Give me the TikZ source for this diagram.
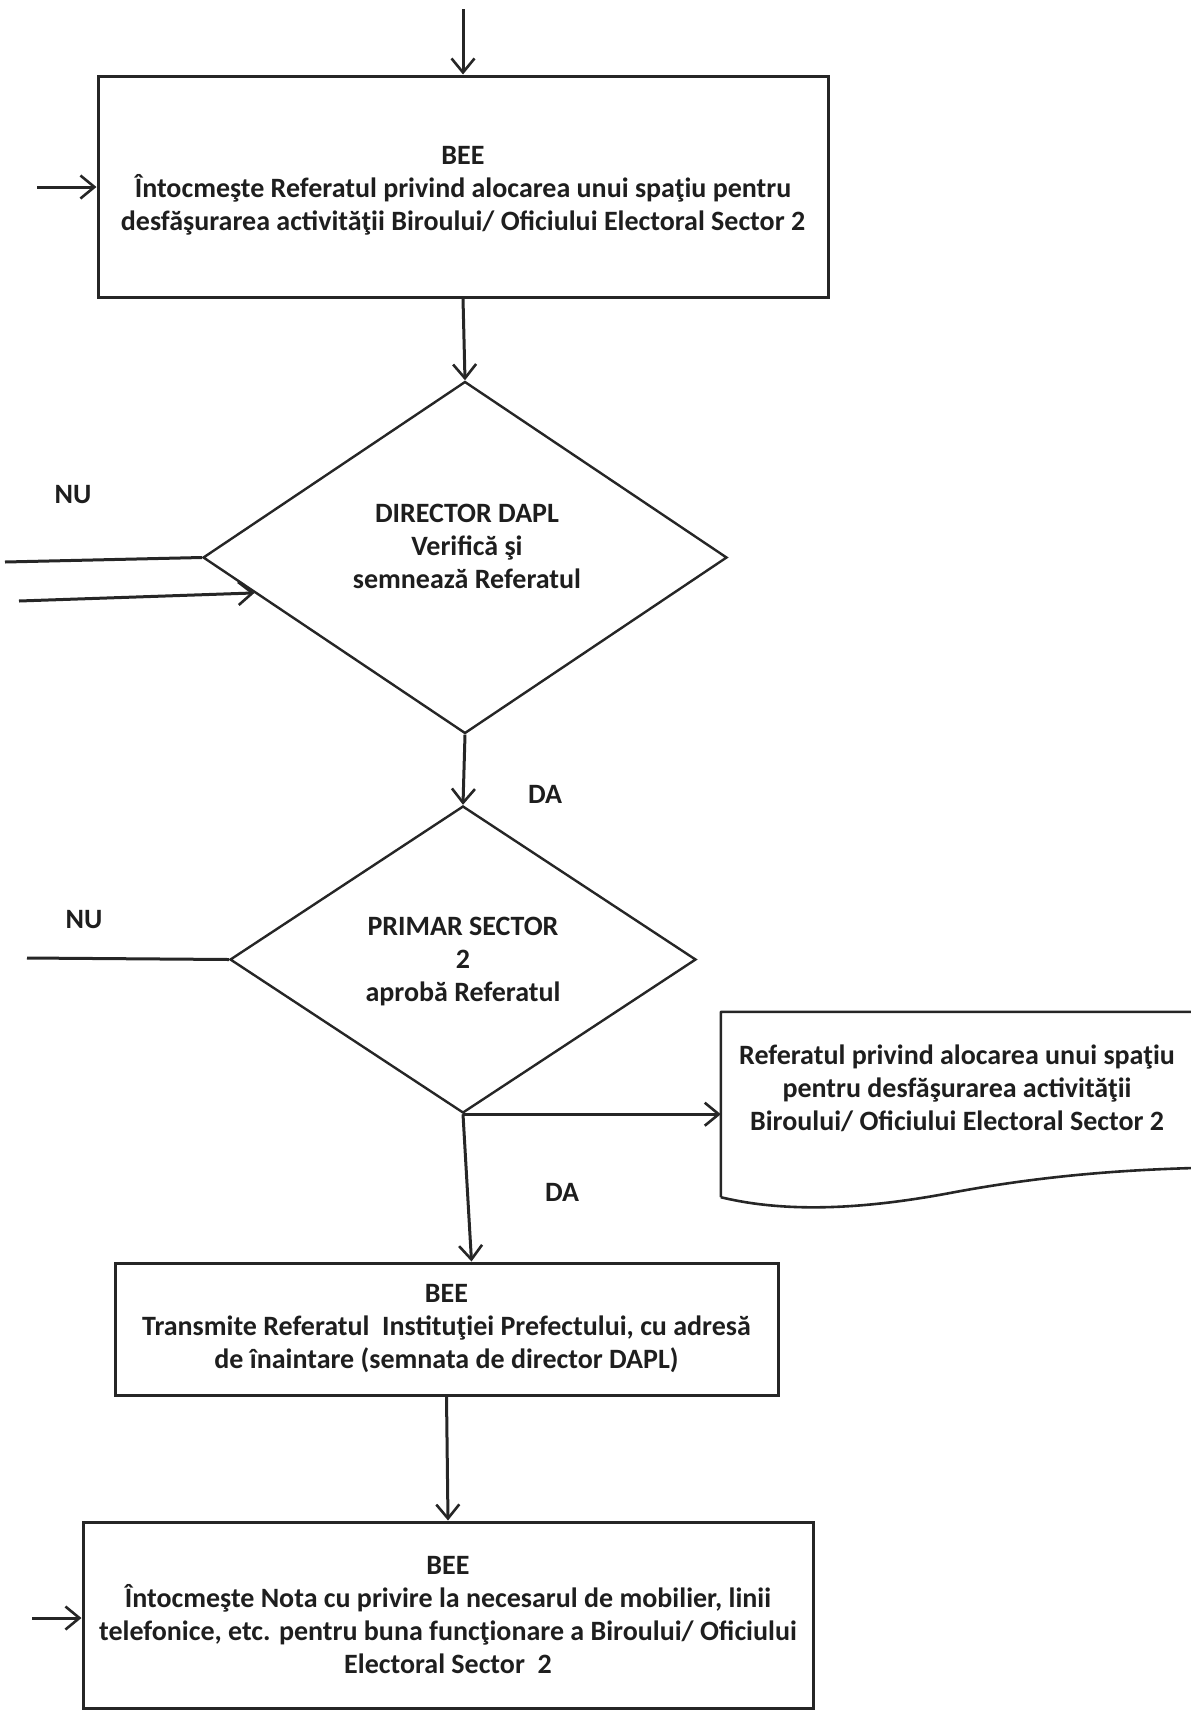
\documentclass[tikz,border=0pt]{standalone}
\usepackage{fontspec}
\setmainfont{Carlito}
\usetikzlibrary{arrows.meta,shapes.geometric,calc}

\definecolor{ink}{HTML}{262626}
\definecolor{txt}{HTML}{1E1E1E}

\tikzset{
  every node/.style={font=\bfseries\fontsize{28}{33}\selectfont, text=txt},
  procbox/.style={draw=ink, line width=3pt, rectangle, inner sep=0pt, align=center},
  decision/.style={draw=ink, line width=2.4pt, diamond, inner sep=0pt, aspect=1},
  lbl/.style={inner sep=0pt, align=center},
  flow/.style={draw=ink, line width=3pt, -{Straight Barb[length=14pt,width=23pt,line width=2.6pt]}},
  plain/.style={draw=ink, line width=3pt}
}

\begin{document}
\begin{tikzpicture}[x=1pt,y=-1pt]
\useasboundingbox (0,0) rectangle (1191,1711);

% --- first BEE box ---
\node[procbox, minimum width=730pt, minimum height=221pt] (b1) at (463,186.5) {};
\node[lbl] (b1t) at (463,191)
  {BEE\\Întocmeşte Referatul privind alocarea unui spaţiu pentru\\desfăşurarea activităţii Biroului/ Oficiului Electoral Sector 2};
\coordinate (top) at (463,9);
\coordinate (in1) at (37,187);
\draw[flow] (top) -- (b1.north);
\draw[flow] (in1) -- (b1.west |- in1);

% --- director decision ---
\node[decision, minimum width=524pt, minimum height=352pt] (d1) at (465,557.5) {};
\node[lbl] (d1t) at (467,546) {DIRECTOR DAPL\\Verifică şi\\semnează Referatul};
\draw[flow] (b1.south) -- (d1.north);

\node[lbl] (nu1) at (73,495) {NU};
\coordinate (nu1s) at (5,562);
\draw[plain] (nu1s) -- (d1.west);
\coordinate (in2) at (19,601);
\draw[flow] (in2) -- ($(d1.west)!0.2!(d1.south)$);

% --- mayor decision ---
\node[decision, minimum width=466pt, minimum height=307pt] (d2) at (463,959.5) {};
\node[lbl] (d2t) at (463,962) {PRIMAR SECTOR\\2\\aprobă Referatul};
\draw[flow] (d1.south) -- (d2.north);
\node[lbl] (da1) at (545,794) {DA};

\node[lbl] (nu2) at (84,920) {NU};
\coordinate (nu2s) at (27,958);
\draw[plain] (nu2s) -- (d2.west);

% --- document output ---
\node[inner sep=0pt, minimum width=473pt, minimum height=185pt] (doc) at (957.5,1104.5) {};
\node[lbl] (doct) at (957,1088) {Referatul privind alocarea unui spaţiu\\pentru desfăşurarea activităţii\\Biroului/ Oficiului Electoral Sector 2};
\draw[ink, line width=2.6pt, line join=round]
  (doc.south west) -- (doc.north west) -- (doc.north east) -- (doc.south east |- 0,1168)
  .. controls (1120,1170) and (1040,1176) .. (950,1193)
  .. controls (870,1208) and (790,1214) .. (doc.south west);
\draw[flow] (d2.south) -- (d2.south -| doc.west);

% --- transmission box ---
\node[procbox, minimum width=663pt, minimum height=132pt] (b2) at (446.5,1329)
  {BEE\\Transmite Referatul\ \ Instituţiei Prefectului, cu adresă\\de înaintare (semnata de director DAPL)};
\draw[flow] (d2.south) -- ([xshift=25pt]b2.north);
\node[lbl] (da2) at (562,1192) {DA};

% --- note box ---
\node[procbox, minimum width=730pt, minimum height=186pt] (b3) at (448,1615)
  {BEE\\Întocmeşte Nota cu privire la necesarul de mobilier, linii\\telefonice, etc. pentru buna funcţionare a Biroului/ Oficiului\\Electoral Sector\ \ 2};
\draw[flow] (b2.south) -- (b3.north);
\coordinate (in3) at (32,1618);
\draw[flow] (in3) -- (b3.west |- in3);
\end{tikzpicture}
\end{document}
